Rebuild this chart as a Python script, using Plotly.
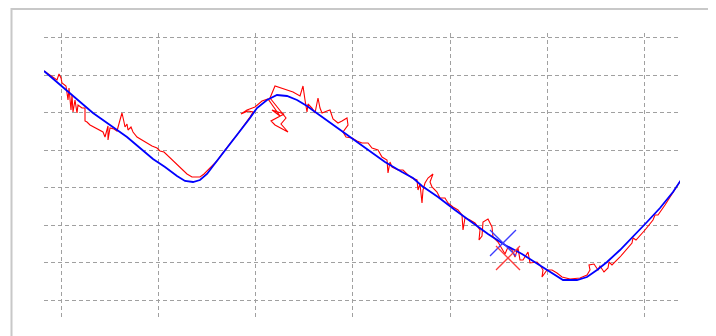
import plotly.graph_objects as go

# Estimated (smooth) trajectory
est_x = [0, 16, 33, 49, 66, 83, 96, 109, 121, 133, 141, 149, 156, 163, 169, 176, 186, 196, 206, 213,
         223, 233, 243, 253, 263, 274, 291, 308, 324, 341, 358, 369, 378, 394, 411, 428, 444, 461, 478,
         489, 503, 513, 519, 533, 543, 553, 563, 576, 589, 603, 616, 629, 637]
est_y = [246, 232, 218, 204, 192, 180, 169, 158, 150, 141, 136, 135, 137, 143, 151, 160, 174, 186, 199, 209,
         217, 222, 221, 217, 211, 203, 191, 179, 167, 155, 145, 139, 131, 120, 107, 95, 83, 72, 63,
         56, 47, 40, 37, 37, 40, 47, 55, 67, 80, 95, 109, 125, 137]

# Noisy measured trajectory
meas_x = [0, 8, 13, 15, 17, 18, 22, 24, 25, 27, 28, 29, 31, 33, 34, 38, 41, 41, 43, 46, 52, 59, 61, 63, 64,
          64, 66, 70, 73, 76, 78, 80, 81, 83, 84, 87, 89, 93, 98, 103, 108, 113, 116, 120, 123, 127, 131,
          135, 139, 143, 148, 153, 156, 160, 164, 169, 173, 178, 183, 188, 193, 198, 203, 206, 209, 204,
          197, 203, 211, 218, 224, 236, 228, 240, 227, 231, 244, 237, 242, 226, 231, 240, 249, 256, 259,
          261, 263, 264, 268, 271, 274, 276, 278, 283, 286, 289, 294, 298, 303, 304, 299, 302, 308, 313,
          318, 324, 328, 334, 338, 343, 344, 346, 348, 354, 359, 364, 368, 373, 374, 376, 378, 379, 381,
          384, 389, 386, 388, 393, 396, 401, 404, 409, 414, 418, 419, 421, 426, 431, 436, 435, 438, 439,
          444, 448, 449, 454, 458, 461, 464, 468, 471, 474, 476, 479, 484, 486, 493, 496, 499, 498, 503,
          508, 513, 518, 526, 536, 543, 546, 545, 550, 554, 556, 560, 564, 565, 568, 576, 584, 588, 589,
          592, 601, 609, 611, 614, 621, 626, 631, 637]
meas_y = [246, 240, 237, 243, 239, 234, 231, 217, 229, 207, 222, 205, 217, 204, 212, 209, 209, 196, 195, 192,
          189, 185, 180, 187, 191, 177, 189, 188, 186, 197, 204, 195, 190, 193, 187, 190, 185, 180, 177,
          174, 171, 169, 166, 165, 162, 159, 155, 151, 147, 143, 140, 140, 140, 143, 147, 151, 156, 163,
          170, 176, 182, 189, 195, 200, 205, 206, 203, 207, 210, 216, 218, 201, 207, 203, 196, 192, 185,
          193, 199, 219, 231, 228, 225, 221, 231, 217, 205, 213, 209, 204, 219, 209, 204, 206, 207, 198,
          194, 196, 199, 192, 185, 180, 179, 176, 174, 174, 169, 167, 160, 157, 144, 155, 150, 147, 147,
          142, 139, 137, 127, 133, 114, 127, 134, 139, 143, 135, 130, 125, 119, 119, 114, 110, 107, 102,
          87, 99, 97, 94, 87, 77, 81, 95, 98, 90, 80, 75, 68, 63, 70, 67, 60, 69, 57, 57, 65, 54, 55, 52,
          47, 40, 47, 47, 44, 40, 38, 39, 42, 47, 52, 53, 47, 51, 45, 49, 55, 52, 60, 69, 74, 79, 77, 87,
          97, 102, 102, 112, 120, 127, 137]

# Current positions (cross markers)
est_now = (459, 74)
meas_now = (464, 59)
CROSS_ARM = 13  # half-length of the cross arms (style)


def cross(center, arm):
    cx, cy = center
    xs = [cx - arm, cx + arm, None, cx - arm, cx + arm]
    ys = [cy - arm, cy + arm, None, cy + arm, cy - arm]
    return xs, ys


fig = go.Figure()
fig.add_trace(go.Scatter(x=meas_x, y=meas_y, mode="lines",
                         line=dict(color="#ff0000", width=1.1), hoverinfo="skip"))
fig.add_trace(go.Scatter(x=est_x, y=est_y, mode="lines",
                         line=dict(color="#0000ff", width=1.8), hoverinfo="skip"))
cx_e, cy_e = cross(est_now, CROSS_ARM)
fig.add_trace(go.Scatter(x=cx_e, y=cy_e, mode="lines",
                         line=dict(color="rgb(60,60,255)", width=1.3), hoverinfo="skip"))
cx_m, cy_m = cross(meas_now, CROSS_ARM - 1)
fig.add_trace(go.Scatter(x=cx_m, y=cy_m, mode="lines",
                         line=dict(color="rgb(255,60,60)", width=1.3), hoverinfo="skip"))

grid = dict(showgrid=True, gridcolor="#a0a0a0", gridwidth=1, griddash="4px,3px",
            zeroline=False, showticklabels=False, ticks="", showline=False)

fig.update_layout(
    width=704, height=328,
    margin=dict(l=36, r=32, t=25, b=19),
    paper_bgcolor="white", plot_bgcolor="white",
    showlegend=False,
    xaxis=dict(range=[0, 636], tick0=17, dtick=97.33, **grid),
    yaxis=dict(range=[0, 284], tick0=17, dtick=37.47, **grid),
    shapes=[dict(type="rect", xref="paper", yref="paper",
                 x0=-0.0511, x1=1.0456, y0=-0.12, y1=1.0845,
                 line=dict(color="#c8c8c8", width=2), layer="below")],
)

fig.write_html("out.html")
